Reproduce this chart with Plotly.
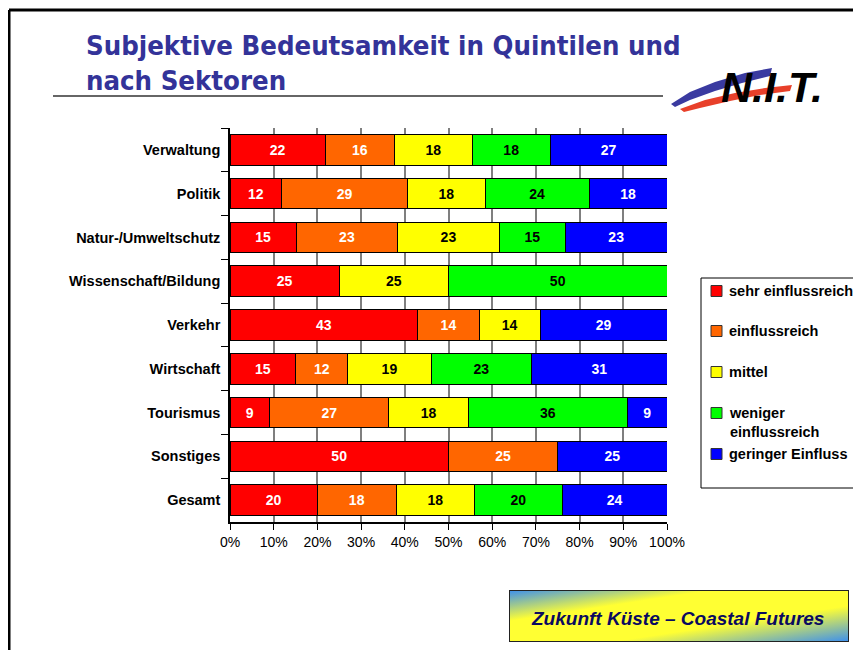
import base64
import plotly.graph_objects as go

# Data
categories = ["Verwaltung", "Politik", "Natur-/Umweltschutz", "Wissenschaft/Bildung",
              "Verkehr", "Wirtschaft", "Tourismus", "Sonstiges", "Gesamt"]
series_names = ["sehr einflussreich", "einflussreich", "mittel",
                "weniger<br>einflussreich", "geringer Einfluss"]
sehr_einflussreich = [22, 12, 15, 25, 43, 15, 9, 50, 20]
einflussreich = [16, 29, 23, 0, 14, 12, 27, 25, 18]
mittel = [18, 18, 23, 25, 14, 19, 18, 0, 18]
weniger_einflussreich = [18, 24, 15, 50, 0, 23, 36, 0, 20]
geringer_einfluss = [27, 18, 23, 0, 29, 31, 9, 25, 24]
series_values = [sehr_einflussreich, einflussreich, mittel,
                 weniger_einflussreich, geringer_einfluss]

COLOURS = ["#ff0000", "#ff6600", "#ffff00", "#00ff00", "#0000ff"]
TEXT_COLOURS = ["white", "white", "black", "black", "white"]
FONT = "Arial, Liberation Sans"

# The page has an 8px body margin, so the figure is drawn 8px smaller
OFF = 8
W, H = 861 - OFF, 650 - OFF
PX0, PX1, PY0, PY1 = 230, 667, 128, 522  # plot area in page pixels


def px(x):
    return (x - PX0) / (PX1 - PX0)


def py(y):
    return (PY1 - y) / (PY1 - PY0)


fig = go.Figure()
for name, vals, col, tcol in zip(series_names, series_values, COLOURS, TEXT_COLOURS):
    fig.add_trace(go.Bar(
        y=categories, x=vals, name=name, orientation="h",
        marker=dict(color=col, line=dict(color="black", width=1)),
        text=[str(v) if v else "" for v in vals],
        texttemplate="%{text}", textposition="inside",
        insidetextanchor="middle", textangle=0,
        textfont=dict(family=FONT, size=14, color=tcol, weight="bold"),
        showlegend=False, hoverinfo="skip",
    ))

shapes = []
annotations = []

# Frame of the slide (left and top only)
shapes.append(dict(type="line", xref="paper", yref="paper",
                   x0=px(9), x1=px(861), y0=py(10), y1=py(10),
                   line=dict(color="black", width=3)))
shapes.append(dict(type="line", xref="paper", yref="paper",
                   x0=px(9), x1=px(9), y0=py(10), y1=py(650),
                   line=dict(color="black", width=3)))

# Title
annotations.append(dict(
    text="Subjektive Bedeutsamkeit in Quintilen und<br>nach Sektoren",
    xref="paper", yref="paper", x=px(84), y=py(28), xanchor="left", yanchor="top",
    align="left", showarrow=False,
    font=dict(family="Liberation Sans Narrow, Arial Narrow, DejaVu Sans Condensed",
              size=27.3, color="#333399", weight="bold"),
))
shapes.append(dict(type="line", xref="paper", yref="paper",
                   x0=px(53), x1=px(663), y0=py(96), y1=py(96),
                   line=dict(color="#333333", width=1.5)))

# N.I.T. logo: swooshes + lettering
def path(points):
    d = "M " + " L ".join(f"{px(x):.4f},{py(y):.4f}" for x, y in points) + " Z"
    return d

shapes.append(dict(type="path", xref="paper", yref="paper",
                   path=path([(671, 104), (690, 92), (715, 82), (745, 73), (772, 68),
                              (770, 76), (742, 83), (715, 91), (690, 100), (675, 107)]),
                   fillcolor="#3a3aa0", line=dict(width=0)))
shapes.append(dict(type="path", xref="paper", yref="paper",
                   path=path([(680, 109), (705, 100), (735, 93), (765, 88), (792, 85),
                              (790, 91), (760, 95), (730, 101), (700, 108), (684, 112)]),
                   fillcolor="#e8402a", line=dict(width=0)))
annotations.append(dict(
    text="<i><b>N.I.T.</b></i>", xref="paper", yref="paper",
    x=px(719), y=py(87), xanchor="left", yanchor="middle", showarrow=False,
    font=dict(family=FONT, size=43, color="black"),
))

# Legend (drawn manually for exact spacing)
shapes.append(dict(type="rect", xref="paper", yref="paper",
                   x0=px(701), x1=px(860), y0=py(278), y1=py(488),
                   line=dict(color="black", width=1), fillcolor="white"))
legend_y = [291, 331, 372, 413, 454]
for name, col, ly in zip(series_names, COLOURS, legend_y):
    shapes.append(dict(type="rect", xref="paper", yref="paper",
                       x0=px(711), x1=px(722), y0=py(ly - 5.5), y1=py(ly + 5.5),
                       line=dict(color="#333333", width=1), fillcolor=col))
    annotations.append(dict(
        text=name, xref="paper", yref="paper", x=px(727), y=py(ly - 10),
        xanchor="left", yanchor="top", align="left", showarrow=False,
        font=dict(family=FONT, size=14.5, color="black", weight="bold"),
    ))

# Footer box with gradient
svg = (
    '<svg xmlns="http://www.w3.org/2000/svg" width="340" height="52" preserveAspectRatio="none">'
    '<defs><linearGradient id="g" x1="0" y1="0" x2="1" y2="1">'
    '<stop offset="0" stop-color="#3a8ef0"/><stop offset="0.3" stop-color="#ffff33"/>'
    '<stop offset="0.65" stop-color="#ffff33"/><stop offset="1" stop-color="#3a8ef0"/>'
    '</linearGradient></defs>'
    '<rect x="0" y="0" width="340" height="52" fill="url(#g)" stroke="#222" stroke-width="2"/>'
    '</svg>'
)
svg_uri = "data:image/svg+xml;base64," + base64.b64encode(svg.encode()).decode()
images = [dict(source=svg_uri, xref="paper", yref="paper",
               x=px(509), y=py(590), sizex=px(849) - px(509), sizey=py(590) - py(642),
               xanchor="left", yanchor="top", sizing="stretch", layer="above")]
annotations.append(dict(
    text="<i><b>Zukunft Küste – Coastal Futures</b></i>", xref="paper", yref="paper",
    x=px(677), y=py(618), xanchor="center", yanchor="middle", showarrow=False,
    font=dict(family=FONT, size=19, color="#0a0a60"),
))

fig.update_layout(
    barmode="stack", barnorm="percent", bargap=0.3,
    width=W, height=H,
    margin=dict(l=PX0 - OFF, r=861 - PX1, t=PY0 - OFF, b=650 - PY1, autoexpand=False),
    paper_bgcolor="white", plot_bgcolor="white",
    shapes=shapes, annotations=annotations, images=images,
    showlegend=False,
    xaxis=dict(range=[0, 100], dtick=10, ticksuffix="%",
               showgrid=True, gridcolor="#7f7f7f", gridwidth=1.5,
               showline=True, linecolor="black", linewidth=1.5,
               ticks="outside", ticklen=6, tickcolor="black", zeroline=False,
               tickfont=dict(family=FONT, size=14, color="black")),
    yaxis=dict(autorange="reversed", tickson="boundaries",
               showline=True, linecolor="black", linewidth=1.5,
               ticks="outside", ticklen=7, tickcolor="black",
               ticklabelstandoff=5,
               tickfont=dict(family=FONT, size=14.5, color="black", weight="bold")),
)

fig.write_html("out.html")
